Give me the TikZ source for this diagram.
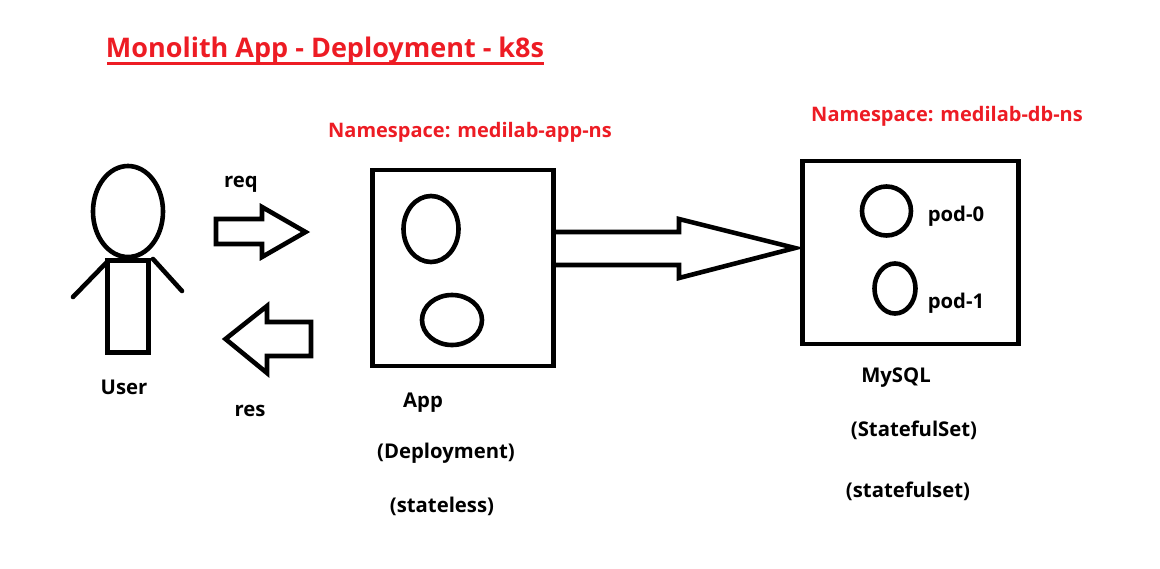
\documentclass[tikz,border=0pt]{standalone}
\usepackage{fontspec}
\usetikzlibrary{shapes.geometric}
\setmainfont{Open Sans}
\definecolor{titlered}{RGB}{237,28,36}
\tikzset{
  sk/.style={line width=4.6pt, draw=black, line join=miter},
  oval/.style={sk, ellipse, inner sep=0pt, outer sep=0pt},
  boxn/.style={sk, rectangle, inner sep=0pt, outer sep=0pt},
  lbl/.style={font=\bfseries\fontsize{20.3}{22}\selectfont, text=black, inner sep=0pt},
  nslbl/.style={font=\bfseries\fontsize{20}{24}\selectfont, text=titlered, inner sep=0pt},
}
\begin{document}
\begin{tikzpicture}[x=1pt,y=-1pt]
\useasboundingbox (0,0) rectangle (1160,568);
\node[font=\bfseries\fontsize{27}{30}\selectfont, text=titlered, inner sep=0pt] (title) at (325,50){Monolith App - Deployment - k8s};
\coordinate (ula) at (107,63.5);
\coordinate (ulb) at (544,63.5);
\draw[titlered, line width=3.2pt] (ula) -- (ulb);
\node[nslbl] (nsapp) at (470,132){Namespace: medilab-app-ns};
\node[nslbl] (nsdb) at (947,116){Namespace: medilab-db-ns};
% user
\node[oval, minimum width=70pt, minimum height=91pt] (head) at (128,211.5){};
\node[boxn, minimum width=41pt, minimum height=92pt] (body) at (128,306.5){};
\coordinate (arml) at (73,297);
\coordinate (armr) at (182,291);
\draw[sk, line cap=round] (107,262) -- (arml);
\draw[sk, line cap=round] (153,259) -- (armr);
\node[lbl] (user) at (124,387.5){User};
% req and res
\node[lbl] (req) at (241,184){req};
\node[lbl] (res) at (250,411){res};
\draw[sk] (216,219) -- (262,219) -- (262,207) -- (305.5,232) -- (262,257) -- (262,244) -- (216,244) -- cycle;
\draw[sk] (311,322) -- (267,322) -- (267,306) -- (225.5,339) -- (267,373) -- (267,356) -- (311,356) -- cycle;
% app
\node[boxn, minimum width=181pt, minimum height=196pt] (appbox) at (463,268){};
\node[oval, minimum width=55pt, minimum height=66pt] (pod1a) at (431,229){};
\node[oval, minimum width=60pt, minimum height=50pt] (pod2a) at (452,320){};
\node[lbl] (app) at (423,403){App};
\node[lbl] (deploy) at (446,453){(Deployment)};
\node[lbl] (stateless) at (442,506){(stateless)};
% db
\node[boxn, minimum width=216pt, minimum height=183pt] (dbbox) at (910.5,252.5){};
\node[oval, minimum width=49pt, minimum height=49pt] (pod0) at (886.5,211){};
\node[oval, minimum width=41pt, minimum height=50pt] (pod1) at (895,288.5){};
\node[lbl] (pod0l) at (956,216){pod-0};
\node[lbl] (pod1l) at (956,303){pod-1};
\node[lbl] (mysql) at (896,378){MySQL};
\node[lbl] (sts) at (914,430){(StatefulSet)};
\node[lbl] (stsl) at (908,491){(statefulset)};
% big arrow
\draw[sk] (appbox.east |- 0,232) -- (679,232) -- (679,219) -- (795,248) -- (679,278) -- (679,265) -- (appbox.east |- 0,265);
\end{tikzpicture}
\end{document}
